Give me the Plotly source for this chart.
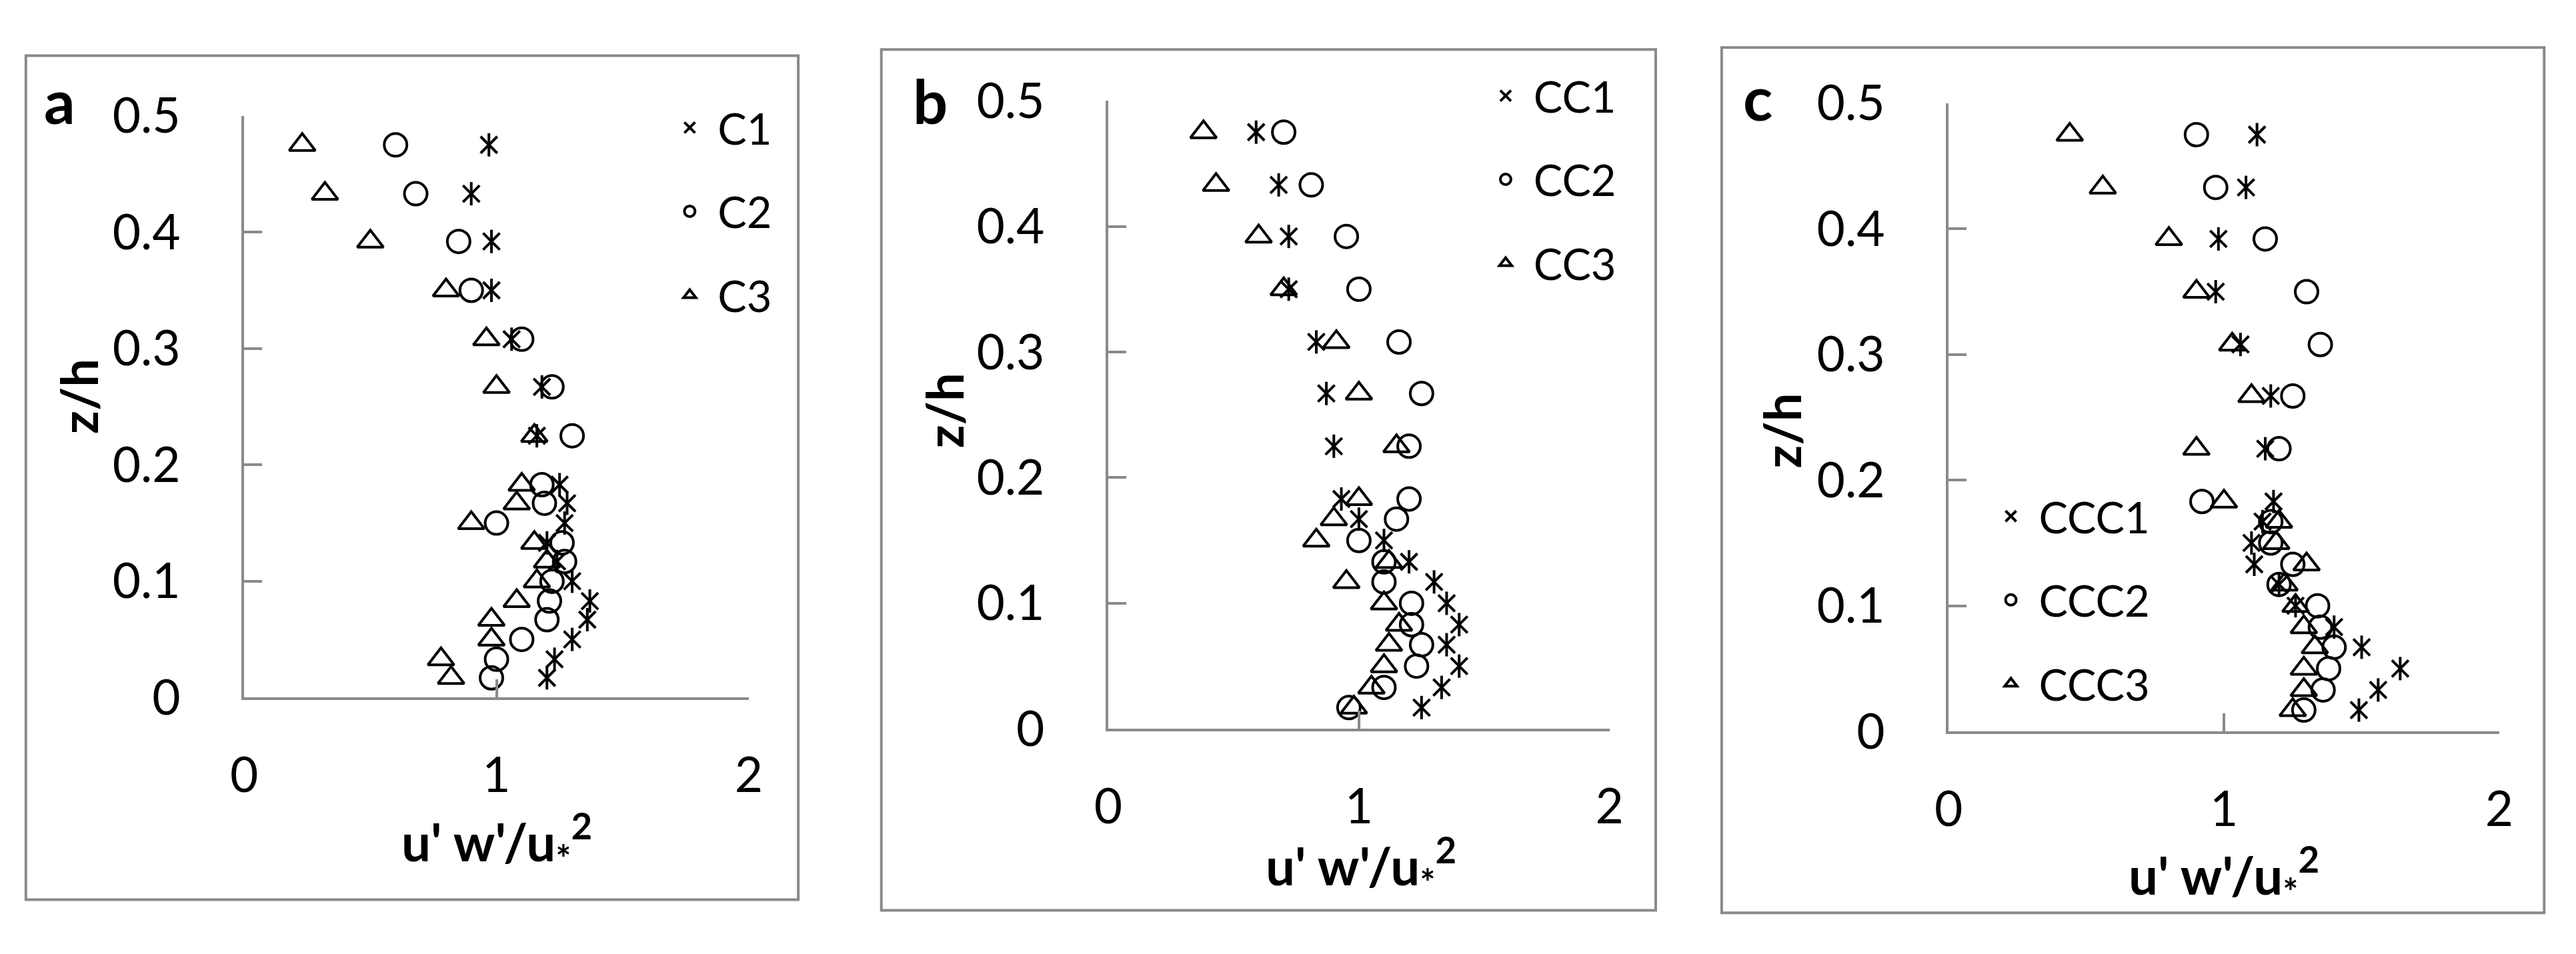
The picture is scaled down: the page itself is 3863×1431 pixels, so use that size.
import plotly.graph_objects as go

W, H = 3863, 1431

# shared heights of the profiles (z/h), bottom to top
z_h = [0.017, 0.033, 0.05, 0.067, 0.083, 0.1, 0.117, 0.133, 0.15, 0.167,
       0.183, 0.225, 0.267, 0.308, 0.35, 0.392, 0.433, 0.475]

# panel a
c1 = [1.20, 1.23, 1.30, 1.36, 1.37, 1.30, 1.24, 1.20, 1.27, 1.28,
      1.25, 1.16, 1.18, 1.06, 0.98, 0.98, 0.90, 0.97]
c2 = [0.98, 1.00, 1.10, 1.20, 1.21, 1.22, 1.27, 1.26, 1.00, 1.19,
      1.18, 1.30, 1.22, 1.10, 0.90, 0.85, 0.68, 0.60]
c3 = [0.82, 0.78, 0.98, 0.98, 1.08, 1.16, 1.20, 1.15, 0.90, 1.08,
      1.10, 1.15, 1.00, 0.96, 0.80, 0.50, 0.32, 0.23]

# panel b
cc1 = [1.25, 1.33, 1.40, 1.35, 1.40, 1.35, 1.30, 1.20, 1.10, 1.00,
       0.93, 0.90, 0.87, 0.83, 0.72, 0.72, 0.68, 0.59]
cc2 = [0.96, 1.10, 1.23, 1.25, 1.21, 1.21, 1.10, 1.10, 1.00, 1.15,
       1.20, 1.20, 1.25, 1.16, 1.00, 0.95, 0.81, 0.70]
cc3 = [0.98, 1.05, 1.10, 1.12, 1.16, 1.10, 0.95, 1.12, 0.83, 0.90,
       1.00, 1.15, 1.00, 0.91, 0.70, 0.60, 0.43, 0.38]

# panel c
ccc1 = [1.49, 1.56, 1.64, 1.50, 1.40, 1.26, 1.20, 1.11, 1.10, 1.14,
        1.18, 1.15, 1.17, 1.06, 0.97, 0.98, 1.08, 1.12]
ccc2 = [1.29, 1.36, 1.38, 1.40, 1.35, 1.34, 1.20, 1.25, 1.17, 1.17,
        0.92, 1.20, 1.25, 1.35, 1.30, 1.15, 0.97, 0.90]
ccc3 = [1.25, 1.29, 1.29, 1.33, 1.29, 1.26, 1.22, 1.30, 1.19, 1.20,
        1.00, 0.90, 1.10, 1.03, 0.90, 0.80, 0.56, 0.44]

x_ticks = [0, 1, 2]
y_ticks = [0, 0.1, 0.2, 0.3, 0.4, 0.5]

GRAY = "#8a8a8a"
FONT = "Lato, Open Sans, sans-serif"


def fx(px):
    return px / W


def fy(py):
    return 1 - py / H


# pixel layout of each panel: frame, axis ends, text spots
panels = [
    dict(tag="a", names=["C1", "C2", "C3"], series=[c1, c2, c3],
         frame=(18, 40, 1189, 1389), xpx=(349, 1114), ypx=(1066, 136),
         letter=(69, 111), xlab=(732, 1296), ylab=(97, 584), leg=(982, 103)),
    dict(tag="b", names=["CC1", "CC2", "CC3"], series=[cc1, cc2, cc3],
         frame=(1315, 30, 2489, 1406), xpx=(1659, 2419), ypx=(1116, 112),
         letter=(1389, 111), xlab=(2042, 1335), ylab=(1410, 607), leg=(2219, 52)),
    dict(tag="c", names=["CCC1", "CCC2", "CCC3"], series=[ccc1, ccc2, ccc3],
         frame=(2589, 27, 3836, 1410), xpx=(2933, 3768), ypx=(1120, 116),
         letter=(2644, 106), xlab=(3350, 1349), ylab=(2680, 639), leg=(2985, 724)),
]

fig = go.Figure()
shapes = []
annotations = []

for i, p in enumerate(panels):
    n = "" if i == 0 else str(i + 1)
    leg = "legend" + n
    xa, ya = "x" + n, "y" + n
    s1, s2, s3 = p["series"]
    n1, n2, n3 = p["names"]

    # star marker: an x with a vertical stroke, like the spreadsheet one
    fig.add_trace(go.Scatter(x=s1, y=z_h, mode="markers", name=n1,
                             legend=leg, legendgroup=n1, xaxis=xa, yaxis=ya,
                             marker=dict(symbol="x-thin-open", size=25, color="black",
                                         line=dict(width=4, color="black")),
                             cliponaxis=False))
    fig.add_trace(go.Scatter(x=s1, y=z_h, mode="markers", name=n1,
                             legend=leg, legendgroup=n1, showlegend=False,
                             xaxis=xa, yaxis=ya,
                             marker=dict(symbol="line-ns-open", size=25, color="black",
                                         line=dict(width=4, color="black")),
                             cliponaxis=False))
    fig.add_trace(go.Scatter(x=s2, y=z_h, mode="markers", name=n2,
                             legend=leg, legendgroup=n2, xaxis=xa, yaxis=ya,
                             marker=dict(symbol="circle-open", size=34, color="black",
                                         line=dict(width=4, color="black")),
                             cliponaxis=False))
    fig.add_trace(go.Scatter(x=s3, y=z_h, mode="markers", name=n3,
                             legend=leg, legendgroup=n3, xaxis=xa, yaxis=ya,
                             marker=dict(symbol="triangle-up-open", size=34, color="black",
                                         line=dict(width=4, color="black")),
                             cliponaxis=False))

    axis_common = dict(showline=True, linecolor=GRAY, linewidth=4,
                       ticks="inside", ticklen=27, tickwidth=4, tickcolor=GRAY,
                       showgrid=False, zeroline=False, fixedrange=True,
                       tickfont=dict(family=FONT, size=73, color="black"))
    fig.update_layout({
        "xaxis" + n: dict(axis_common, domain=[fx(p["xpx"][0]), fx(p["xpx"][1])],
                          range=[0, 2], tickvals=x_ticks, anchor=ya,
                          ticklabelstandoff=50),
        "yaxis" + n: dict(axis_common, domain=[fy(p["ypx"][0]), fy(p["ypx"][1])],
                          range=[0, 0.5], tickvals=y_ticks, anchor=xa,
                          ticklabelstandoff=77),
        leg: dict(x=fx(p["leg"][0]), y=fy(p["leg"][1]), xanchor="left", yanchor="top",
                  font=dict(family=FONT, size=65, color="black"),
                  bgcolor="rgba(0,0,0,0)", traceorder="grouped", tracegroupgap=38,
                  itemwidth=74),
    })

    l, t, r, b = p["frame"]
    shapes.append(dict(type="rect", xref="paper", yref="paper",
                       x0=fx(l), x1=fx(r), y0=fy(b), y1=fy(t),
                       line=dict(color=GRAY, width=4), layer="below"))

    text_common = dict(xref="paper", yref="paper", showarrow=False,
                       xanchor="center", yanchor="middle")
    annotations.append(dict(text_common, text="<b>%s</b>" % p["tag"],
                            x=fx(p["letter"][0]), y=fy(p["letter"][1]),
                            font=dict(family=FONT, size=92, color="black")))
    annotations.append(dict(text_common, text="<b>u' w'/u<sub>*</sub><sup>2</sup></b>",
                            x=fx(p["xlab"][0]), y=fy(p["xlab"][1]),
                            font=dict(family=FONT, size=78, color="black")))
    annotations.append(dict(text_common, text="<b>z/h</b>", textangle=-90,
                            x=fx(p["ylab"][0]), y=fy(p["ylab"][1]),
                            font=dict(family=FONT, size=76, color="black")))

fig.update_layout(width=W, height=H, margin=dict(l=0, r=0, t=0, b=0),
                  paper_bgcolor="white", plot_bgcolor="white",
                  shapes=shapes, annotations=annotations,
                  font=dict(family=FONT, size=70, color="black"))

fig.write_html("out.html", config={"displayModeBar": False},
               post_script="document.body.style.margin='0';")
